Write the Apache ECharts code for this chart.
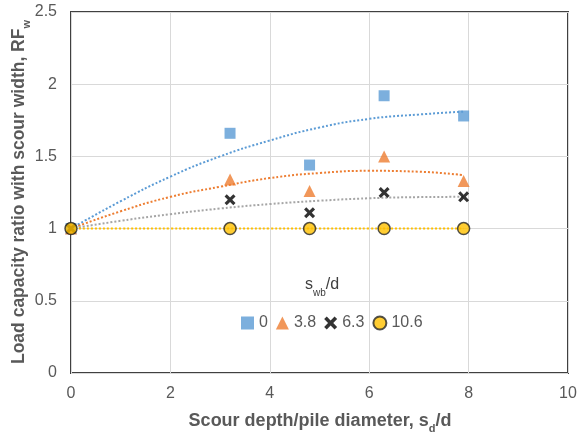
<!DOCTYPE html>
<html><head><meta charset="utf-8">
<script src="https://cdn.jsdelivr.net/npm/echarts@6/dist/echarts.min.js"></script>
<style>html,body{margin:0;padding:0;background:#fff}#c{width:584px;height:434px}</style>
</head><body><div id="c"></div>
<script>
const xData = [0, 3.2, 4.8, 6.3, 7.9];
const swb0 = [1.0, 1.66, 1.44, 1.92, 1.78];
const swb38 = [1.0, 1.34, 1.26, 1.50, 1.33];
const swb63 = [1.0, 1.20, 1.11, 1.25, 1.22];
const swb106 = [1.0, 1.0, 1.0, 1.0, 1.0];
const seriesNames = ['0', '3.8', '6.3', '10.6'];
// trendlines
const trendX = [0, 1, 2, 3, 4, 5, 6, 7, 7.9];
const trend0 = [1.0, 1.19, 1.36, 1.50, 1.61, 1.70, 1.76, 1.79, 1.81];
const trend38 = [1.0, 1.12, 1.22, 1.29, 1.35, 1.385, 1.40, 1.394, 1.37];
const trend63 = [1.0, 1.054, 1.10, 1.139, 1.17, 1.193, 1.21, 1.218, 1.22];
const trend106 = [1.0, 1.0, 1.0, 1.0, 1.0, 1.0, 1.0, 1.0, 1.0];
const xTicks = [0, 2, 4, 6, 8, 10];
const yTicks = [0, 0.5, 1, 1.5, 2, 2.5];

const FONT = 'Liberation Sans, Arial, sans-serif';
const colors = ['#5B9BD5', '#ED7D31', '#000000', '#FFC000'];
const trendColors = ['#5B9BD5', '#ED7D31', '#A5A5A5', '#FFC000'];
const pts = [swb0, swb38, swb63, swb106];
const trends = [trend0, trend38, trend63, trend106];
const xPath = 'path://M2,0 L5,3 L8,0 L10,2 L7,5 L10,8 L8,10 L5,7 L2,10 L0,8 L3,5 L0,2 Z';
const symbols = ['rect', 'triangle', xPath, 'circle'];
const sizes = [11, 12, 11, 12];

const series = [];
trends.forEach((t, i) => {
  series.push({
    type: 'line', name: 'trend' + i, data: trendX.map((x, k) => [x, t[k]]),
    smooth: true, showSymbol: false, symbol: 'none', z: 1, silent: true,
    lineStyle: { color: trendColors[i], width: 2, type: 'dotted' }
  });
});
pts.forEach((p, i) => {
  series.push({
    type: 'scatter', name: seriesNames[i], data: xData.map((x, k) => [x, p[k]]),
    symbol: symbols[i], symbolSize: sizes[i], z: 5,
    itemStyle: i === 3 ? { color: colors[i], borderColor: '#262626', borderWidth: 1.5 } : { color: colors[i] }
  });
});

function subRich(size, sub, color, bold) {
  return {
    a: { fontSize: size, fontWeight: bold ? 'bold' : 'normal', fontFamily: FONT, fill: color, lineHeight: 26, verticalAlign: 'middle' },
    b: { fontSize: sub, fontWeight: bold ? 'bold' : 'normal', fontFamily: FONT, fill: color, lineHeight: 13, verticalAlign: 'bottom' }
  };
}

const chart = echarts.init(document.getElementById('c'));
chart.setOption({
  animation: false,
  backgroundColor: '#fff',
  grid: { left: 71, right: 16, top: 12, bottom: 61, show: true, borderColor: '#404040', borderWidth: 2, containLabel: false },
  xAxis: {
    type: 'value', min: 0, max: 10, interval: 2,
    axisLine: { show: false }, axisTick: { show: false },
    splitLine: { lineStyle: { color: '#d9d9d9', width: 1 } },
    axisLabel: { color: '#595959', fontSize: 16, fontFamily: FONT, margin: 13,
      formatter: v => xTicks.includes(v) ? String(v) : '' }
  },
  yAxis: {
    type: 'value', min: 0, max: 2.5, interval: 0.5,
    axisLine: { show: false }, axisTick: { show: false },
    splitLine: { lineStyle: { color: '#d9d9d9', width: 1 } },
    axisLabel: { color: '#595959', fontSize: 16, fontFamily: FONT, margin: 14,
      formatter: v => yTicks.includes(v) ? String(v) : '' }
  },
  legend: {
    data: seriesNames, left: 236, top: 310, itemWidth: 13, itemHeight: 13, itemGap: 8,
    textStyle: { color: '#595959', fontSize: 16, fontFamily: FONT }
  },
  graphic: [
    { type: 'text', x: 322, y: 285, style: {
        text: '{a|s}{b|wb}{a|/d}', align: 'center', verticalAlign: 'middle',
        rich: subRich(16, 10, '#404040', false) } },
    { type: 'text', x: 320, y: 421, style: {
        text: '{a|Scour depth/pile diameter, s}{b|d}{a|/d}', align: 'center', verticalAlign: 'middle',
        rich: subRich(18, 11, '#595959', true) } },
    { type: 'text', x: 19, y: 192, rotation: Math.PI / 2, style: {
        text: '{a|Load capacity ratio with scour width, RF}{b|w}', align: 'center', verticalAlign: 'middle',
        rich: subRich(17.5, 11, '#595959', true) } }
  ],
  series: series
});
</script></body></html>
